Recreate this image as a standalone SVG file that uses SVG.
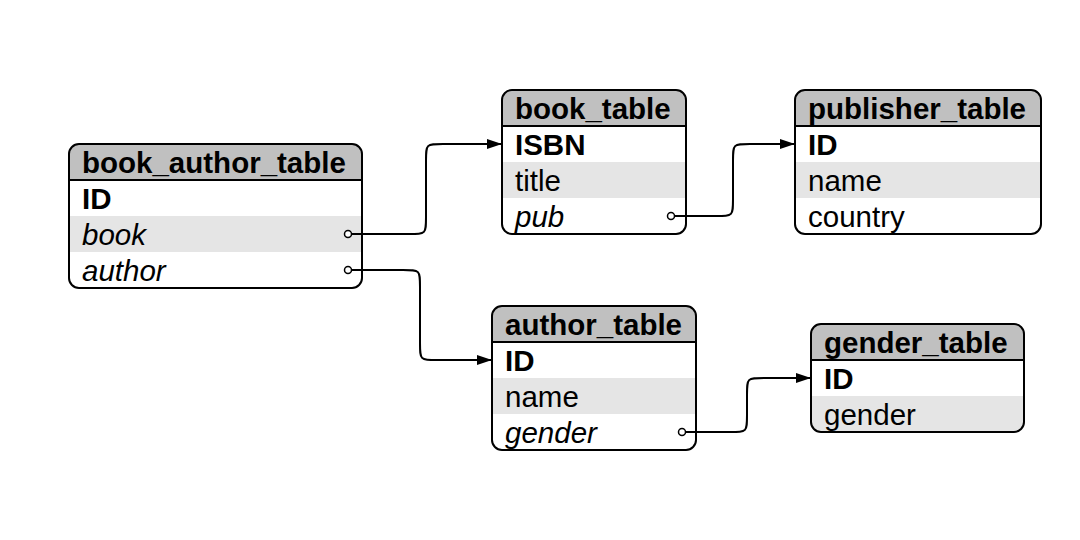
<svg xmlns="http://www.w3.org/2000/svg" width="1080" height="540" viewBox="0 0 1080 540">
<style>
text{font-family:"Liberation Sans",Arial,Helvetica,sans-serif;font-size:29.5px;fill:#000}
.h{font-weight:bold}
.k{font-weight:bold}
.i{font-style:italic}
.hdr{fill:#c0c0c0}
.alt{fill:#e5e5e5}
.box{fill:none;stroke:#000;stroke-width:2}
.sep{stroke:#000;stroke-width:2}
.bg{fill:#fff}
.edge{fill:none;stroke:#000;stroke-width:2}
.dot{fill:#fff;stroke:#000;stroke-width:1.5}
</style>
<defs>
<marker id="arr" markerUnits="userSpaceOnUse" markerWidth="15" markerHeight="10" refX="15" refY="5" orient="auto">
<path d="M0,0 L15,5 L0,10 z" fill="#000"/>
</marker>
</defs>
<rect width="1080" height="540" fill="#fff"/>

<g id="book_author_table">
<rect class="bg" x="69" y="144" width="293" height="144" rx="10"/>
<path class="hdr" d="M69,180 V154 A10,10 0 0 1 79,144 H352 A10,10 0 0 1 362,154 V180 Z"/>
<rect class="alt" x="69" y="216" width="293" height="36"/>
<line class="sep" x1="69" y1="180" x2="362" y2="180"/>
<rect class="box" x="69" y="144" width="293" height="144" rx="10"/>
<text class="h" x="82" y="173">book_author_table</text>
<text class="k" x="82" y="209">ID</text>
<text class="i" x="82" y="245">book</text>
<text class="i" x="82" y="281">author</text>
<circle class="dot" cx="348" cy="234" r="3.5"/>
<circle class="dot" cx="348" cy="270" r="3.5"/>
</g>

<g id="book_table">
<rect class="bg" x="502" y="90" width="184" height="144" rx="10"/>
<path class="hdr" d="M502,126 V100 A10,10 0 0 1 512,90 H676 A10,10 0 0 1 686,100 V126 Z"/>
<rect class="alt" x="502" y="162" width="184" height="36"/>
<line class="sep" x1="502" y1="126" x2="686" y2="126"/>
<rect class="box" x="502" y="90" width="184" height="144" rx="10"/>
<text class="h" x="515" y="119">book_table</text>
<text class="k" x="515" y="155">ISBN</text>
<text x="515" y="191">title</text>
<text class="i" x="515" y="227">pub</text>
<circle class="dot" cx="671" cy="216" r="3.5"/>
</g>

<g id="publisher_table">
<rect class="bg" x="795" y="90" width="246" height="144" rx="10"/>
<path class="hdr" d="M795,126 V100 A10,10 0 0 1 805,90 H1031 A10,10 0 0 1 1041,100 V126 Z"/>
<rect class="alt" x="795" y="162" width="246" height="36"/>
<line class="sep" x1="795" y1="126" x2="1041" y2="126"/>
<rect class="box" x="795" y="90" width="246" height="144" rx="10"/>
<text class="h" x="808" y="119">publisher_table</text>
<text class="k" x="808" y="155">ID</text>
<text x="808" y="191">name</text>
<text x="808" y="227">country</text>
</g>

<g id="author_table">
<rect class="bg" x="492" y="306" width="204" height="144" rx="10"/>
<path class="hdr" d="M492,342 V316 A10,10 0 0 1 502,306 H686 A10,10 0 0 1 696,316 V342 Z"/>
<rect class="alt" x="492" y="378" width="204" height="36"/>
<line class="sep" x1="492" y1="342" x2="696" y2="342"/>
<rect class="box" x="492" y="306" width="204" height="144" rx="10"/>
<text class="h" x="505" y="335">author_table</text>
<text class="k" x="505" y="371">ID</text>
<text x="505" y="407">name</text>
<text class="i" x="505" y="443">gender</text>
<circle class="dot" cx="682" cy="432" r="3.5"/>
</g>

<g id="gender_table">
<rect class="bg" x="811" y="324" width="213" height="108" rx="10"/>
<path class="hdr" d="M811,360 V334 A10,10 0 0 1 821,324 H1014 A10,10 0 0 1 1024,334 V360 Z"/>
<path class="alt" d="M811,396 H1024 V422 A10,10 0 0 1 1014,432 H821 A10,10 0 0 1 811,422 Z"/>
<line class="sep" x1="811" y1="360" x2="1024" y2="360"/>
<rect class="box" x="811" y="324" width="213" height="108" rx="10"/>
<text class="h" x="824" y="353">gender_table</text>
<text class="k" x="824" y="389">ID</text>
<text x="824" y="425">gender</text>
</g>

<g id="connectors">
<path class="edge" marker-end="url(#arr)" d="M351.5,234 H409 C426,234 426,234 426,217 V161 C426,144 426,144 443,144 H502"/>
<path class="edge" marker-end="url(#arr)" d="M351.5,270 H403 C420,270 420,270 420,287 V343 C420,360 420,360 437,360 H492"/>
<path class="edge" marker-end="url(#arr)" d="M674.5,216 H716 C733,216 733,216 733,199 V161 C733,144 733,144 750,144 H795"/>
<path class="edge" marker-end="url(#arr)" d="M685.5,432 H730 C747,432 747,432 747,415 V395 C747,378 747,378 764,378 H811"/>
</g>
</svg>
